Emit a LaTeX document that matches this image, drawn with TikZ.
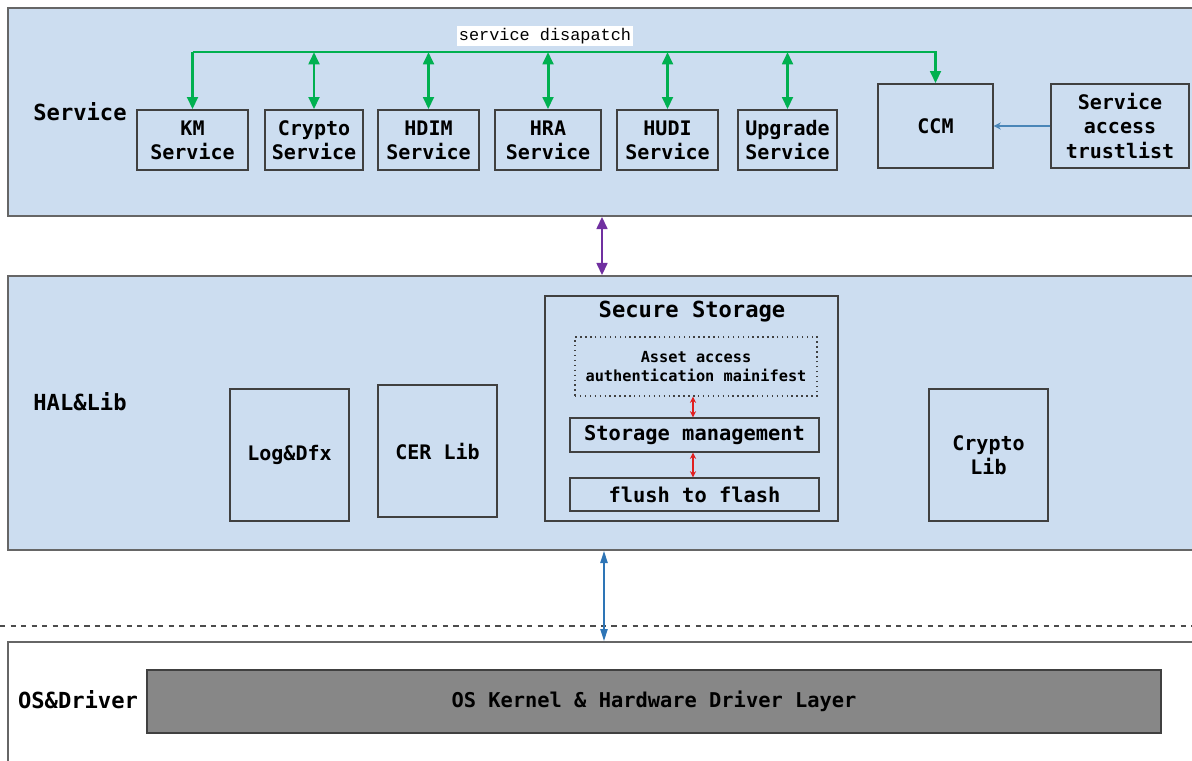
\documentclass[tikz,border=0pt]{standalone}
\usepackage{fontspec}
\setmonofont{DejaVu Sans Mono}
\newfontfamily\dispfont{Liberation Mono}
\usetikzlibrary{arrows.meta,fit}

\definecolor{panelblue}{HTML}{CCDDF0}
\definecolor{busgreen}{HTML}{00B050}
\definecolor{linkpurple}{HTML}{7030A0}
\definecolor{linkblue}{HTML}{2E75B6}
\definecolor{thinblue}{HTML}{4A86B8}
\definecolor{linkred}{HTML}{E02020}
\definecolor{kernelgray}{HTML}{878787}

\tikzset{
  panel/.style={draw=black!60, line width=0.8pt, inner sep=0pt},
  box/.style={draw=black!75, line width=0.8pt, inner sep=0pt, align=center,
    font=\fontsize{11.4}{13.8}\selectfont\ttfamily\bfseries},
  svcbox/.style={box, minimum height=1.2cm},
  libbox/.style={box, minimum width=2.38cm, minimum height=2.64cm},
  layer/.style={font=\fontsize{12.6}{14}\selectfont\ttfamily\bfseries},
  bus/.style={busgreen, line width=1.7pt},
  busarrow/.style={bus, {Triangle[width=6pt,length=7pt]}-{Triangle[width=6pt,length=7pt]}},
  redlink/.style={linkred, line width=0.6pt, {Stealth[width=3.5pt,length=3.5pt]}-{Stealth[width=3.5pt,length=3.5pt]}}
}

\begin{document}
\begin{tikzpicture}[x=0.02cm, y=-0.02cm]
  \useasboundingbox (0,0) rectangle (1192,760);

  % Capas
  \node[panel, fill=panelblue, fit={(8,8) (1196,216)}] (svcpanel) {};
  \node[panel, fill=panelblue, fit={(8,276) (1196,550)}] (halpanel) {};
  \node[panel, fill=white, fit={(8,642) (1196,770)}] (ospanel) {};
  \draw[black!70, dashed, line width=0.8pt] (0,626) -- (1192,626);

  \node[layer] (svclabel) at (80,112) {Service};
  \node[layer] (hallabel) at (80,402) {HAL\&Lib};
  \node[layer] (oslabel) at (78,700) {OS\&Driver};

  % Servicios
  \node[svcbox, minimum width=2.22cm] (km) at (192.5,140) {KM\\Service};
  \node[svcbox, minimum width=1.96cm] (crypto) at (314,140) {Crypto\\Service};
  \node[svcbox, minimum width=2.02cm] (hdim) at (428.5,140) {HDIM\\Service};
  \node[svcbox, minimum width=2.12cm] (hra) at (548,140) {HRA\\Service};
  \node[svcbox, minimum width=2.02cm] (hudi) at (667.5,140) {HUDI\\Service};
  \node[svcbox, minimum width=1.98cm] (upgrade) at (787.5,140) {Upgrade\\Service};
  \node[box, minimum width=2.3cm, minimum height=1.68cm] (ccm) at (935.5,126) {CCM};
  \node[box, minimum width=2.76cm, minimum height=1.68cm, font=\fontsize{11.4}{14.2}\selectfont\ttfamily\bfseries] (trust) at (1120,126) {Service\\access\\trustlist};

  % Bus de despacho
  \coordinate (busL) at (192.5,52);
  \coordinate (busR) at (935.5,52);
  \draw[bus, -{Triangle[width=6pt,length=7pt]}] (busL) -- (km.north);
  \draw[bus, -{Triangle[width=6pt,length=7pt]}] (busL) -- (busR) -- (ccm.north);
  \foreach \s in {crypto,hdim,hra,hudi,upgrade}
    \draw[busarrow] (\s.north |- busL) -- (\s.north);
  \node[fill=white, inner sep=1pt, font=\dispfont\fontsize{9.6}{11}\selectfont] (disp) at (545,36) {service disapatch};
  \draw[thinblue, line width=0.6pt, -{Stealth[width=4pt,length=4pt]}] (trust.west) -- (ccm.east);

  % HAL y librerias
  \node[libbox] (logdfx) at (289.5,455) {Log\&Dfx};
  \node[libbox] (cerlib) at (437.5,451) {CER Lib};
  \node[libbox] (cryptolib) at (988.5,455) {Crypto\\Lib};
  \node[box, minimum width=5.86cm, minimum height=4.5cm] (secstore) at (691.5,408.5) {};
  \node[font=\fontsize{12.6}{14}\selectfont\ttfamily\bfseries] (sstitle) at (692,312) {Secure Storage};
  \node[box, dotted, minimum width=4.84cm, minimum height=1.18cm, font=\fontsize{8.7}{11.3}\selectfont\ttfamily\bfseries] (asset) at (696,366.5) {Asset access\\authentication mainifest};
  \node[box, minimum width=4.98cm, minimum height=0.68cm, font=\fontsize{11.6}{13}\selectfont\ttfamily\bfseries] (mgmt) at (694.5,435) {Storage management};
  \node[box, minimum width=4.98cm, minimum height=0.66cm, font=\fontsize{11.6}{13}\selectfont\ttfamily\bfseries] (flush) at (694.5,494.5) {flush to flash};
  \draw[redlink] (mgmt.north -| 693,0) -- (asset.south -| 693,0);
  \draw[redlink] (mgmt.south -| 693,0) -- (flush.north -| 693,0);

  % Enlaces entre capas
  \draw[linkpurple, line width=1.6pt, {Triangle[width=6pt,length=7pt]}-{Triangle[width=6pt,length=7pt]}] (svcpanel.south) -- (halpanel.north);
  \draw[linkblue, line width=1.2pt, {Triangle[width=4pt,length=7pt]}-{Triangle[width=4pt,length=7pt]}] ([xshift=0.04cm]halpanel.south) -- ([xshift=0.04cm]ospanel.north);

  % Nucleo
  \node[box, fill=kernelgray, minimum width=20.28cm, minimum height=1.26cm, font=\fontsize{11.6}{13}\selectfont\ttfamily\bfseries] (kernel) at (654,701.5) {OS Kernel \& Hardware Driver Layer};
\end{tikzpicture}
\end{document}
